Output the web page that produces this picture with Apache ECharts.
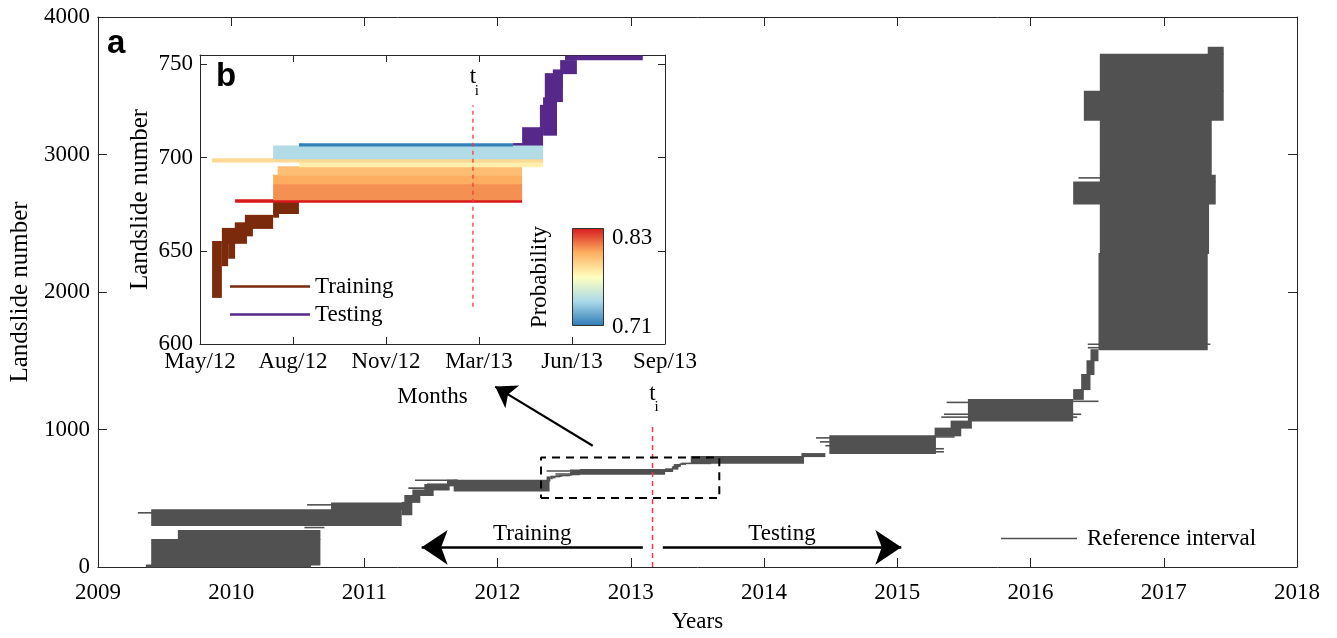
<!DOCTYPE html>
<html>
<head>
<meta charset="utf-8">
<script src="https://cdn.jsdelivr.net/npm/echarts@6/dist/echarts.min.js"></script>
<style>
  html, body { margin: 0; padding: 0; background: #fff; }
  #main { width: 1337px; height: 638px; }
</style>
</head>
<body>
<div id="main"></div>
<script>
// ---- data (landslide number vs. time in decimal years) ----
// reference intervals drawn as blocks: [nLow, nHigh, tStart, tEnd]
const mainBlocks = [
  [0, 15, 2009.36, 2010.60],
  [15, 200, 2009.40, 2010.67],
  [200, 265, 2009.60, 2010.67],
  [301, 416, 2009.40, 2011.28],
  [416, 466, 2010.75, 2011.30],
  [380, 470, 2011.28, 2011.36],
  [470, 520, 2011.30, 2011.42],
  [520, 560, 2011.36, 2011.52],
  [560, 600, 2011.45, 2011.64],
  [552, 631, 2011.67, 2012.39],
  [590, 631, 2011.62, 2011.70],
  [755, 803, 2013.45, 2014.30],
  [803, 825, 2014.28, 2014.46],
  [825, 954, 2014.49, 2015.29],
  [954, 1010, 2015.28, 2015.48],
  [1010, 1061, 2015.40, 2015.56],
  [1061, 1219, 2015.53, 2016.32],
  [1219, 1290, 2016.32, 2016.40],
  [1290, 1400, 2016.38, 2016.45],
  [1400, 1500, 2016.42, 2016.48],
  [1500, 1580, 2016.45, 2016.51],
  [1580, 2280, 2016.51, 2017.33],
  [2280, 2640, 2016.52, 2017.34],
  [2640, 2800, 2016.32, 2017.39],
  [2800, 2850, 2016.52, 2017.39],
  [2850, 3250, 2016.52, 2017.36],
  [3250, 3460, 2016.40, 2017.45],
  [3460, 3730, 2016.52, 2017.45],
  [3730, 3780, 2017.33, 2017.45]
];
// single intervals: [n, tStart, tEnd]
const mainLines = [
  [394, 2009.30, 2009.45],
  [452, 2010.57, 2010.80],
  [287, 2010.55, 2010.70],
  [574, 2011.33, 2011.60],
  [631, 2011.38, 2011.70],
  [602, 2011.47, 2011.65],
  [939, 2014.39, 2014.52],
  [910, 2014.42, 2014.52],
  [882, 2014.46, 2014.52],
  [946, 2015.25, 2015.43],
  [860, 2015.25, 2015.35],
  [838, 2015.25, 2015.35],
  [1197, 2015.37, 2015.56],
  [1111, 2015.35, 2015.56],
  [1090, 2015.33, 2015.56],
  [1205, 2016.30, 2016.51],
  [1111, 2016.30, 2016.38],
  [1090, 2016.30, 2016.35],
  [1620, 2016.43, 2017.35],
  [1595, 2016.43, 2016.55],
  [2830, 2016.36, 2016.55]
];
// inset (b): training / testing intervals [nLow, nHigh, tStart, tEnd]
const trainingBlocks = [
  [625, 655, 2012.368, 2012.396],
  [642, 655, 2012.396, 2012.414],
  [646, 655, 2012.414, 2012.434],
  [654, 662, 2012.396, 2012.468],
  [658, 665, 2012.433, 2012.485],
  [662, 669, 2012.462, 2012.543],
  [668, 672, 2012.543, 2012.560],
  [670, 676, 2012.543, 2012.617]
];
const testingBlocks = [
  [705.5, 707.5, 2013.231, 2013.317],
  [707.5, 716, 2013.257, 2013.317],
  [712, 732, 2013.317, 2013.357],
  [716, 728, 2013.308, 2013.322],
  [730, 745, 2013.322, 2013.374],
  [738, 747, 2013.345, 2013.374],
  [745, 752, 2013.366, 2013.414],
  [752.5, 754.5, 2013.380, 2013.603]
];
// predicted intervals with probability: [nLow, nHigh, tStart, tEnd, p]
const probBlocks = [
  [676, 677.3, 2012.434, 2013.257, 0.83],
  [677.3, 686, 2012.543, 2013.257, 0.806],
  [686, 690.5, 2012.543, 2013.257, 0.800],
  [690.5, 695, 2012.556, 2013.257, 0.794],
  [695, 697.6, 2012.617, 2013.317, 0.776],
  [697.6, 699.3, 2012.368, 2013.317, 0.784],
  [699.3, 706.2, 2012.543, 2013.317, 0.742],
  [706.2, 707.4, 2012.617, 2013.231, 0.712]
];
const yearTicks = [2009, 2010, 2011, 2012, 2013, 2014, 2015, 2016, 2017, 2018];
const monthLabels = ['May/12', 'Aug/12', 'Nov/12', 'Mar/13', 'Jun/13', 'Sep/13'];
const probRange = [0.71, 0.83];
const tSplit = 2013.163;          // t_i in panel a
const tSplitInset = 2013.116;     // t_i in panel b
const zoomBox = [2012.326, 2013.664, 502, 796];  // t0, t1, n0, n1
const zoomArrow = [[2012.714, 882], [2011.982, 1312]];
const trainingArrow = [[2011.43, 143], [2013.09, 143]];
const testingArrow = [[2013.24, 143], [2015.03, 143]];

// ---- helpers ----
const SERIF = 'Liberation Serif';
const GRAY = '#515151';
const AX = '#262626';
const insetStart = 2012 + 4 / 12;
const toMonth = t => (t - insetStart) * 12;
const toInset = b => [b[0], b[1], toMonth(b[2]), toMonth(b[3])].concat(b.slice(4));

function blockRenderer(minH) {
  return function (params, api) {
    const a = api.coord([api.value(2), api.value(1)]);
    const b = api.coord([api.value(3), api.value(0)]);
    let y = a[1], h = b[1] - a[1];
    if (h < minH) { y -= (minH - h) / 2; h = minH; }
    else { y -= 0.5; h += 1; }   // overlap neighbours, no seams
    return {
      type: 'rect',
      shape: { x: a[0], y: y, width: Math.max(b[0] - a[0], 1), height: h },
      style: { fill: api.visual('color') }
    };
  };
}

const grayData = mainBlocks
  .concat(mainLines.map(l => [l[0], l[0], l[1], l[2]]))
  .concat(trainingBlocks, testingBlocks, probBlocks.map(b => b.slice(0, 4)));

const labelStyle = { fontFamily: SERIF, fontSize: 23, color: '#000' };
const yNameStyle = { fontFamily: SERIF, fontSize: 25, color: '#000' };
const plain = v => String(v);

function axisBase(gridIndex, extra) {
  return Object.assign({
    gridIndex: gridIndex,
    type: 'value',
    axisLine: { show: true, onZero: false, lineStyle: { color: AX, width: 1 } },
    axisTick: { show: true, inside: true, length: 9, lineStyle: { color: AX } },
    splitLine: { show: false },
    axisLabel: Object.assign({ margin: 10, formatter: plain }, labelStyle),
    nameTextStyle: labelStyle
  }, extra);
}
const mirror = { axisLabel: { show: false } };
const insetTick = { show: true, inside: true, length: 7, lineStyle: { color: AX } };

var chartDom = document.getElementById('main');
var myChart = echarts.init(chartDom);
var option;

option = {
  animation: false,
  backgroundColor: '#fff',
  grid: [
    { left: 93, right: 40, top: 17, bottom: 63 },
    { left: 200, right: 672, top: 55, bottom: 294, show: true, backgroundColor: '#fff', borderWidth: 0 }
  ],
  xAxis: [
    axisBase(0, {
      min: yearTicks[0], max: yearTicks[yearTicks.length - 1], interval: 1, position: 'bottom',
      axisLabel: Object.assign({ margin: 14, formatter: plain }, labelStyle),
      name: 'Years', nameLocation: 'middle', nameGap: 43
    }),
    axisBase(1, {
      min: 0, max: 16, interval: 3.2, position: 'bottom', axisTick: insetTick,
      axisLabel: Object.assign({ margin: 6, formatter: v => monthLabels[Math.round(v / 3.2)] }, labelStyle),
      name: 'Months', nameLocation: 'middle', nameGap: 41
    }),
    axisBase(0, Object.assign({ min: 2009, max: 2018, interval: 1, position: 'top' }, mirror)),
    axisBase(1, Object.assign({ min: 0, max: 16, interval: 3.2, position: 'top', axisTick: insetTick }, mirror))
  ],
  yAxis: [
    axisBase(0, {
      min: 0, max: 4000, interval: 1000, position: 'left',
      axisLabel: Object.assign({ margin: 8, formatter: plain }, labelStyle),
      name: 'Landslide number', nameLocation: 'middle', nameGap: 62, nameTextStyle: yNameStyle
    }),
    axisBase(1, {
      min: 600, max: 755, interval: 50, position: 'left', axisTick: insetTick,
      axisLabel: Object.assign({ margin: 7, formatter: v => (v % 50 === 0 ? String(v) : '') }, labelStyle),
      name: 'Landslide number', nameLocation: 'middle', nameGap: 47, nameTextStyle: yNameStyle
    }),
    axisBase(0, Object.assign({ min: 0, max: 4000, interval: 1000, position: 'right' }, mirror)),
    axisBase(1, Object.assign({ min: 600, max: 755, interval: 50, position: 'right', axisTick: insetTick }, mirror))
  ],
  legend: [
    {
      data: ['Reference interval'], left: 996, top: 522, icon: 'rect',
      itemWidth: 76, itemHeight: 1.5, selectedMode: false,
      textStyle: Object.assign({ padding: [0, 0, 0, 5] }, labelStyle)
    },
    {
      data: ['Training', 'Testing'], left: 225, top: 270, orient: 'vertical', icon: 'rect',
      itemWidth: 80, itemHeight: 2.5, itemGap: 5, selectedMode: false,
      textStyle: Object.assign({ padding: [0, 0, 0, 0] }, labelStyle)
    }
  ],
  visualMap: {
    type: 'continuous', show: false, seriesIndex: 3, dimension: 4,
    min: probRange[0], max: probRange[1],
    inRange: { color: ['#2c7bb6', '#abd9e9', '#ffffbf', '#fdae61', '#d7191c'] }
  },
  graphic: [
    { type: 'text', left: 107, top: 27, style: { text: 'a', font: 'bold 33px "Liberation Sans"', fill: '#000' } },
    { type: 'text', left: 216, top: 60, style: { text: 'b', font: 'bold 33px "Liberation Sans"', fill: '#000' } },
    {
      type: 'rect', left: 572, top: 228, z: 10,
      shape: { width: 31, height: 97 },
      style: {
        stroke: '#333', lineWidth: 1,
        fill: new echarts.graphic.LinearGradient(0, 0, 0, 1, [
          { offset: 0, color: '#d7191c' }, { offset: 0.25, color: '#fdae61' },
          { offset: 0.5, color: '#ffffbf' }, { offset: 0.75, color: '#abd9e9' },
          { offset: 1, color: '#2c7bb6' }
        ])
      }
    },
    { type: 'text', left: 612, top: 226, z: 10, style: { text: String(probRange[1]), font: '23px "Liberation Serif"', fill: '#000' } },
    { type: 'text', left: 612, top: 315, z: 10, style: { text: String(probRange[0]), font: '23px "Liberation Serif"', fill: '#000' } },
    {
      type: 'text', x: 540, y: 277, rotation: Math.PI / 2, z: 10,
      style: { text: 'Probability', font: '23px "Liberation Serif"', fill: '#000', align: 'center', verticalAlign: 'middle' }
    }
  ],
  series: [
    {
      name: 'Reference interval', type: 'custom', xAxisIndex: 0, yAxisIndex: 0,
      itemStyle: { color: GRAY }, encode: { x: [2, 3], y: [0, 1] },
      renderItem: blockRenderer(1.6), data: grayData
    },
    {
      name: 'Training', type: 'custom', xAxisIndex: 1, yAxisIndex: 1,
      itemStyle: { color: '#7b2a0b' }, encode: { x: [2, 3], y: [0, 1] },
      renderItem: blockRenderer(1.5), data: trainingBlocks.map(toInset)
    },
    {
      name: 'Testing', type: 'custom', xAxisIndex: 1, yAxisIndex: 1,
      itemStyle: { color: '#55288a' }, encode: { x: [2, 3], y: [0, 1] },
      renderItem: blockRenderer(1.5), data: testingBlocks.map(toInset)
    },
    {
      name: 'Probability', type: 'custom', xAxisIndex: 1, yAxisIndex: 1,
      encode: { x: [2, 3], y: [0, 1] },
      renderItem: blockRenderer(1.5), data: probBlocks.map(toInset)
    },
    {
      name: 'ti', type: 'line', xAxisIndex: 0, yAxisIndex: 0,
      symbol: 'circle', symbolSize: 0, showSymbol: true,
      lineStyle: { color: '#f03c3c', width: 1.5, type: [5, 4] },
      data: [[tSplit, 0], {
        value: [tSplit, 1040],
        label: {
          show: true, position: 'top', distance: 10, formatter: '{t|t}\n{i|i}',
          rich: {
            t: { fontFamily: SERIF, fontSize: 23, lineHeight: 15, color: '#000' },
            i: { fontFamily: SERIF, fontSize: 15, lineHeight: 13, color: '#000', padding: [0, 0, 0, 8] }
          }
        }
      }]
    },
    {
      name: 'ti inset', type: 'line', xAxisIndex: 1, yAxisIndex: 1,
      symbol: 'circle', symbolSize: 0, showSymbol: true, z: 5,
      lineStyle: { color: '#f03c3c', width: 1.3, type: [4, 4] },
      data: [[toMonth(tSplitInset), 620], {
        value: [toMonth(tSplitInset), 728],
        label: {
          show: true, position: 'top', distance: 8, formatter: '{t|t}\n{i|i}',
          rich: {
            t: { fontFamily: SERIF, fontSize: 23, lineHeight: 15, color: '#000' },
            i: { fontFamily: SERIF, fontSize: 15, lineHeight: 13, color: '#000', padding: [0, 0, 0, 8] }
          }
        }
      }]
    },
    {
      name: 'zoom box', type: 'line', xAxisIndex: 0, yAxisIndex: 0, symbol: 'none',
      lineStyle: { color: '#000', width: 2, type: [8, 6] },
      data: [[zoomBox[0], zoomBox[2]], [zoomBox[1], zoomBox[2]], [zoomBox[1], zoomBox[3]],
             [zoomBox[0], zoomBox[3]], [zoomBox[0], zoomBox[2]]]
    },
    {
      name: 'zoom arrow', type: 'lines', coordinateSystem: 'cartesian2d', xAxisIndex: 0, yAxisIndex: 0,
      symbol: ['none', 'arrow'], symbolSize: 20,
      lineStyle: { color: '#000', width: 2.2, opacity: 1 },
      itemStyle: { color: '#000' },
      data: [{ coords: zoomArrow }]
    },
    {
      name: 'training arrow', type: 'lines', coordinateSystem: 'cartesian2d', xAxisIndex: 0, yAxisIndex: 0,
      symbol: ['arrow', 'none'], symbolSize: 26,
      lineStyle: { color: '#000', width: 2.5, opacity: 1 },
      label: Object.assign({ show: true, position: 'middle', distance: 2, formatter: 'Training' }, labelStyle),
      data: [{ coords: trainingArrow }]
    },
    {
      name: 'testing arrow', type: 'lines', coordinateSystem: 'cartesian2d', xAxisIndex: 0, yAxisIndex: 0,
      symbol: ['none', 'arrow'], symbolSize: 26,
      lineStyle: { color: '#000', width: 2.5, opacity: 1 },
      label: Object.assign({ show: true, position: 'middle', distance: 2, formatter: 'Testing' }, labelStyle),
      data: [{ coords: testingArrow }]
    }
  ]
};

option && myChart.setOption(option);
</script>
</body>
</html>
